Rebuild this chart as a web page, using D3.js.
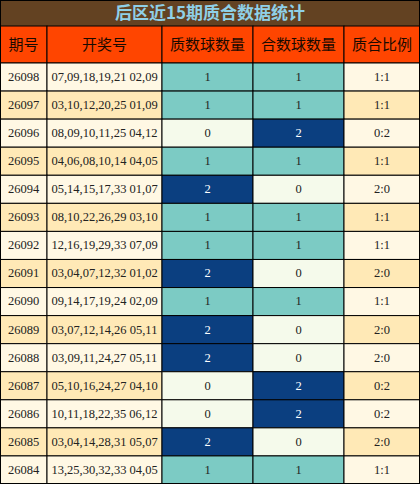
<!DOCTYPE html><html><head><meta charset="utf-8"><script src="https://cdn.jsdelivr.net/npm/d3@7"></script>
<style>body{margin:0;background:#fff}</style></head><body><svg id="c" width="420" height="484"></svg><script>
const title="后区近15期质合数据统计";
const headers=["期号","开奖号","质数球数量","合数球数量","质合比例"];
const periods=["26098","26097","26096","26095","26094","26093","26092","26091","26090","26089","26088","26087","26086","26085","26084"];
const draws=["07,09,18,19,21 02,09","03,10,12,20,25 01,09","08,09,10,11,25 04,12","04,06,08,10,14 04,05","05,14,15,17,33 01,07","08,10,22,26,29 03,10","12,16,19,29,33 07,09","03,04,07,12,32 01,02","09,14,17,19,24 02,09","03,07,12,14,26 05,11","03,09,11,24,27 05,11","05,10,16,24,27 04,10","10,11,18,22,35 06,12","03,04,14,28,31 05,07","13,25,30,32,33 04,05"];
const primeCounts=[1,1,0,1,2,1,1,2,1,2,2,0,0,2,1];
const compCounts=[1,1,2,1,0,1,1,0,1,0,0,2,2,0,1];
const svg=d3.select("#c");
const W=420,H=484,titleH=26,headH=37;
const x=d3.scaleOrdinal().domain(d3.range(5)).range([0,47,162,253,344]);
const xEnd=[47,162,253,344,420];
const y=d3.scaleBand().domain(d3.range(periods.length)).range([titleH+headH,H]);
svg.append("rect").attr("width",W).attr("height",titleH).attr("fill","#634222");
svg.append("text").attr("x",W/2).attr("y",titleH/2+1).attr("text-anchor","middle").attr("dominant-baseline","middle")
 .attr("fill","#8fd0e8").attr("font-family","Noto Sans CJK SC").attr("font-weight","bold").attr("font-size",17).text(title);
const hg=svg.append("g");
headers.forEach((h,i)=>{
 hg.append("rect").attr("x",x(i)).attr("y",titleH).attr("width",xEnd[i]-x(i)).attr("height",headH).attr("fill","#ff4500").attr("stroke","#000");
 hg.append("text").attr("x",(x(i)+xEnd[i])/2).attr("y",titleH+headH/2+1).attr("text-anchor","middle").attr("dominant-baseline","middle")
  .attr("font-family","Noto Sans CJK SC").attr("font-size",15).attr("fill","#1a0a00").text(h);
});
const cnt=v=>v===2?"#0b3f80":v===1?"#7ccbc4":"#f5faeb";
periods.forEach((p,r)=>{
 const rowBg=r%2===0?"#fff8e4":"#ffe9b6";
 const vals=[p,draws[r],primeCounts[r],compCounts[r],primeCounts[r]+":"+compCounts[r]];
 const fills=[rowBg,rowBg,cnt(primeCounts[r]),cnt(compCounts[r]),rowBg];
 vals.forEach((v,i)=>{
  svg.append("rect").attr("x",x(i)).attr("y",y(r)).attr("width",xEnd[i]-x(i)).attr("height",y.bandwidth()).attr("fill",fills[i]).attr("stroke","#000");
  svg.append("text").attr("x",(x(i)+xEnd[i])/2).attr("y",y(r)+y.bandwidth()/2+1).attr("text-anchor","middle").attr("dominant-baseline","middle")
   .attr("font-family","Liberation Serif").attr("font-size",12.5).attr("fill",fills[i]==="#0b3f80"?"#fff":"#222").text(v);
 });
});
svg.append("rect").attr("x",0.5).attr("y",0.5).attr("width",W-1).attr("height",H-1).attr("fill","none").attr("stroke","#000");
</script></body></html>
